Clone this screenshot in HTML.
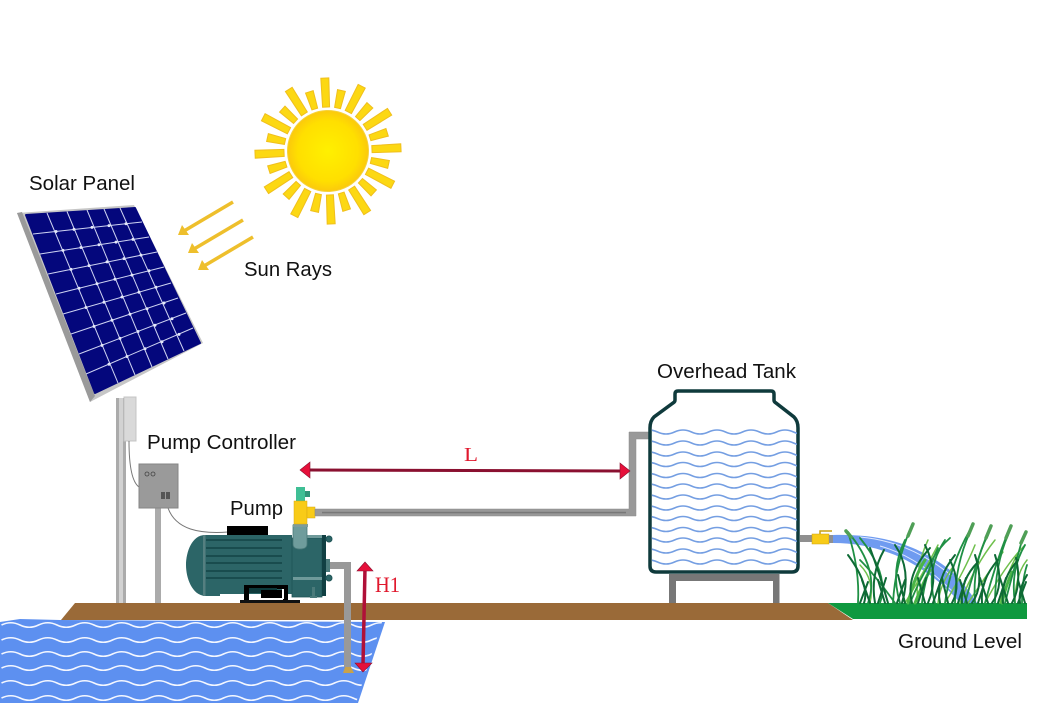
<!DOCTYPE html>
<html><head><meta charset="utf-8"><style>
html,body{margin:0;padding:0;background:#fff}
svg{display:block}
text{font-family:"Liberation Sans",sans-serif;fill:#111}
.r{font-family:"Liberation Serif",serif;fill:#e0182d}
</style></head><body>
<svg width="1047" height="706" viewBox="0 0 1047 706" xmlns="http://www.w3.org/2000/svg">
<defs>
<radialGradient id="sg"><stop offset="0" stop-color="#fff000"/><stop offset="0.75" stop-color="#ffdf00"/><stop offset="1" stop-color="#fbc90c"/></radialGradient>
<path id="wt" d="M640.500 0q8.500 -4 17 0t17 0t17 0t17 0t17 0t17 0t17 0t17 0t17 0t17 0" fill="none" stroke="#749ee2" stroke-width="1.600"/>
<path id="ww" d="M1.500 0q9.250 -4.500 18.500 0t18.500 0t18.500 0t18.500 0t18.500 0t18.500 0t18.500 0t18.500 0t18.500 0t18.500 0t18.500 0t18.500 0t18.500 0t18.500 0t18.500 0t18.500 0t18.500 0t18.500 0t18.500 0t18.500 0t18.500 0" fill="none" stroke="#f4f7ff" stroke-width="1.600"/>
<clipPath id="tc"><rect x="652" y="420" width="145" height="150"/></clipPath>
<clipPath id="wc"><polygon points="0,620 382,622 356,703 0,703"/></clipPath>
<path id="rl" d="M-4 -73L4 -73L3.500 -44L-3.500 -44Z" fill="#fcd813" stroke="#f0bf1c" stroke-width="1"/>
<path id="rs" d="M-4 -62L4 -62L3 -44L-3 -44Z" fill="#fcd813" stroke="#f0bf1c" stroke-width="1"/>
</defs>

<!-- sun -->
<g transform="translate(328,151) rotate(-2.500)">
<use href="#rl"/><use href="#rs" transform="rotate(15)"/><use href="#rl" transform="rotate(30)"/><use href="#rs" transform="rotate(45)"/><use href="#rl" transform="rotate(60)"/><use href="#rs" transform="rotate(75)"/>
<use href="#rl" transform="rotate(90)"/><use href="#rs" transform="rotate(105)"/><use href="#rl" transform="rotate(120)"/><use href="#rs" transform="rotate(135)"/><use href="#rl" transform="rotate(150)"/><use href="#rs" transform="rotate(165)"/>
<use href="#rl" transform="rotate(180)"/><use href="#rs" transform="rotate(195)"/><use href="#rl" transform="rotate(210)"/><use href="#rs" transform="rotate(225)"/><use href="#rl" transform="rotate(240)"/><use href="#rs" transform="rotate(255)"/>
<use href="#rl" transform="rotate(270)"/><use href="#rs" transform="rotate(285)"/><use href="#rl" transform="rotate(300)"/><use href="#rs" transform="rotate(315)"/><use href="#rl" transform="rotate(330)"/><use href="#rs" transform="rotate(345)"/>
<circle r="40.500" fill="url(#sg)" stroke="#f6d23c" stroke-width="1"/>
</g>

<!-- sun ray arrows -->
<g stroke="#eebf2c" stroke-width="3.500" fill="#eebf2c">
<line x1="233" y1="202" x2="184" y2="231"/><polygon points="178,235 182,225 189,235" stroke="none"/>
<line x1="243" y1="220" x2="194" y2="249"/><polygon points="188,253 192,243 199,253" stroke="none"/>
<line x1="253" y1="237" x2="204" y2="266"/><polygon points="198,270 202,260 209,270" stroke="none"/>
</g>

<!-- poles -->
<rect x="116" y="398" width="10" height="205" fill="#ababab"/><rect x="119" y="398" width="4" height="205" fill="#d2d2d2"/>
<rect x="155" y="508" width="6" height="95" fill="#ababab"/>
<rect x="124" y="397" width="12" height="44" fill="#d9d9d9" stroke="#c4c4c4"/>
<path d="M129 441C129 465 132 482 139 487" fill="none" stroke="#777" stroke-width="1"/>
<path d="M168 508C176 530 200 534 228 532" fill="none" stroke="#777" stroke-width="1"/>

<!-- panel -->
<polygon points="17,213 134,205 203,343 90,402" fill="#c6c6c6"/>
<polygon points="17,213 22,212 95,396 90,402" fill="#9a9a9a"/>
<polygon points="26,215 135,208 200,343 95,393" fill="#04077c" stroke="#04077c" stroke-width="2" stroke-linejoin="round"/>
<g stroke="#cfd4f2" stroke-width="1">
<line x1="47" y1="213" x2="118" y2="383"/><line x1="67" y1="211.500" x2="135" y2="375"/><line x1="87" y1="210" x2="152" y2="367"/><line x1="104" y1="209" x2="168" y2="359"/><line x1="120" y1="208" x2="184" y2="351"/>
<line x1="33" y1="234" x2="142" y2="222"/><line x1="40" y1="254" x2="149" y2="237"/><line x1="48" y1="274" x2="157" y2="252"/><line x1="56" y1="294" x2="164" y2="267"/><line x1="63" y1="314" x2="171" y2="283"/><line x1="71" y1="334" x2="178" y2="298"/><line x1="79" y1="354" x2="186" y2="313"/><line x1="86" y1="374" x2="193" y2="328"/>
</g>
<g fill="#e4e8fa">
<circle cx="56" cy="231.500" r="1.500"/><circle cx="74" cy="229.400" r="1.500"/><circle cx="92" cy="227.400" r="1.500"/><circle cx="109" cy="225.600" r="1.500"/><circle cx="126" cy="223.700" r="1.500"/>
<circle cx="63" cy="250.400" r="1.500"/><circle cx="81" cy="247.500" r="1.500"/><circle cx="99" cy="244.700" r="1.500"/><circle cx="116" cy="242.100" r="1.500"/><circle cx="133" cy="239.400" r="1.500"/>
<circle cx="71" cy="269.400" r="1.500"/><circle cx="89" cy="265.600" r="1.500"/><circle cx="107" cy="261.900" r="1.500"/><circle cx="124" cy="258.600" r="1.500"/><circle cx="141" cy="255.100" r="1.500"/>
<circle cx="79" cy="288.300" r="1.500"/><circle cx="97" cy="283.700" r="1.500"/><circle cx="115" cy="279.200" r="1.500"/><circle cx="132" cy="275.100" r="1.500"/><circle cx="149" cy="270.800" r="1.500"/>
<circle cx="86" cy="307.500" r="1.500"/><circle cx="104" cy="302.200" r="1.500"/><circle cx="122" cy="297" r="1.500"/><circle cx="139" cy="292.300" r="1.500"/><circle cx="156" cy="287.300" r="1.500"/>
<circle cx="94" cy="326.400" r="1.500"/><circle cx="112" cy="320.300" r="1.500"/><circle cx="130" cy="314.200" r="1.500"/><circle cx="147" cy="308.800" r="1.500"/><circle cx="164" cy="303" r="1.500"/>
<circle cx="102" cy="345.400" r="1.500"/><circle cx="120" cy="338.400" r="1.500"/><circle cx="138" cy="331.500" r="1.500"/><circle cx="155" cy="325.300" r="1.500"/><circle cx="172" cy="318.700" r="1.500"/>
<circle cx="109" cy="364.300" r="1.500"/><circle cx="127" cy="356.500" r="1.500"/><circle cx="145" cy="348.700" r="1.500"/><circle cx="162" cy="341.800" r="1.500"/><circle cx="179" cy="334.400" r="1.500"/>
</g>

<!-- controller -->
<rect x="139" y="464" width="39" height="44" fill="#9a9a9a" stroke="#858585"/>
<circle cx="147" cy="474" r="2" fill="none" stroke="#444" stroke-width=".8"/><circle cx="153" cy="474" r="2" fill="none" stroke="#444" stroke-width=".8"/>
<rect x="161" y="492" width="4" height="7" fill="#555"/><rect x="166" y="492" width="4" height="7" fill="#555"/>

<!-- ground -->
<polygon points="75,603 828,603 853,620 61,620" fill="#9a6a38"/>
<polygon points="828,603 1027,603 1027,619 853,619" fill="#0f993f"/>

<!-- source water -->
<polygon points="0,622 20,619 60,620 385,622 358,703 0,703" fill="#5d90f0"/>
<g clip-path="url(#wc)">
<use href="#ww" y="625"/><use href="#ww" y="640"/><use href="#ww" y="654"/><use href="#ww" y="668"/><use href="#ww" y="683"/><use href="#ww" y="698"/>
</g>

<!-- pump motor -->
<rect x="227" y="526" width="41" height="10" fill="#000"/>
<path d="M205 535C192 535 186 552 186 565C186 578 192 595 205 596L220 596L220 594L292 594L292 535Z" fill="#2c6567"/>
<rect x="203" y="535" width="2.500" height="61" fill="#557f80"/>
<g stroke="#0e3d40" stroke-width="1.300">
<line x1="206" y1="540" x2="282" y2="540"/><line x1="206" y1="548" x2="282" y2="548"/><line x1="206" y1="556" x2="282" y2="556"/><line x1="206" y1="563" x2="282" y2="563"/><line x1="206" y1="571" x2="282" y2="571"/><line x1="206" y1="578" x2="282" y2="578"/>
</g>
<path d="M244 585H288V600H283V589H249V600H244Z" fill="#000"/>
<rect x="249" y="588" width="28" height="5" fill="#0d3a3c"/>
<rect x="261" y="590" width="21" height="8" fill="#000"/><rect x="282" y="589" width="2" height="10" fill="#fff"/>
<rect x="240" y="600" width="60" height="3" fill="#111"/>
<!-- pump head -->
<rect x="292" y="538" width="30" height="59" fill="#2c6567" stroke="#1f5557" stroke-width=".8"/>
<rect x="293" y="577" width="30" height="3" fill="#6f9a9a"/>
<rect x="307" y="535" width="17" height="3" fill="#6f9a9a"/>
<rect x="322" y="535" width="4" height="61" fill="#114043"/>
<circle cx="329" cy="539" r="3" fill="#2c6567" stroke="#1f5557"/><circle cx="329" cy="578" r="3" fill="#2c6567" stroke="#1f5557"/>
<rect x="326" y="559" width="4" height="13" fill="#4a7a7a"/>
<rect x="312" y="587" width="3" height="10" fill="#4a7a7a"/><rect x="310" y="596" width="7" height="2" fill="#4a7a7a"/>

<!-- valve -->
<path d="M293 525H307V544Q307 549 300 549Q293 549 293 544Z" fill="#6f9c9c" stroke="#4a7a7a" stroke-width=".8"/>
<rect x="293" y="524" width="15" height="3" fill="#7d9c9c"/>
<rect x="296" y="487" width="9" height="14" fill="#3fbf95"/><rect x="305" y="491" width="5" height="6" fill="#2f9478"/>
<rect x="294" y="501" width="13" height="23" fill="#f8cb18" stroke="#d8a810" stroke-width=".5"/>
<rect x="307" y="507" width="8" height="11" fill="#f8cb18" stroke="#d8a810" stroke-width=".5"/>

<!-- pipes -->
<path d="M315 509H629V432H652V439H636V516H315Z" fill="#999" stroke="#8a8a8a" stroke-width=".5"/>
<rect x="322" y="511.800" width="304" height="1.500" fill="#787878"/>
<path d="M330 562H351V667H344V569H330Z" fill="#999"/>
<path d="M345 667H351L354 673H343Z" fill="#c9a24a"/>

<!-- arrows -->
<line x1="308" y1="470" x2="622" y2="471" stroke="#8a1030" stroke-width="3"/>
<polygon points="300,470 310,462 310,478" fill="#e6103a" stroke="#8a1030" stroke-width=".6"/>
<polygon points="630,471 620,463 620,479" fill="#e6103a" stroke="#8a1030" stroke-width=".6"/>
<line x1="365" y1="568" x2="363" y2="665" stroke="#b01038" stroke-width="3.500"/>
<polygon points="365,562 373,571 357,571" fill="#e6103a" stroke="#8a1030" stroke-width=".6"/>
<polygon points="363,672 355,663 372,663" fill="#e6103a" stroke="#8a1030" stroke-width=".6"/>

<!-- tank -->
<rect x="669" y="574" width="110" height="7" fill="#777"/><rect x="669" y="574" width="7" height="29" fill="#777"/><rect x="773" y="574" width="6.500" height="29" fill="#777"/>
<path d="M678 391H771Q774 391 774 394V400Q774 402 776 403L794 417Q798 421 798 428V566Q798 572 792 572H656Q650 572 650 566V428Q650 421 654 417L673 403Q675 402 675 400V394Q675 391 678 391Z" fill="#fff" stroke="#0f3a3c" stroke-width="3.500"/>
<g clip-path="url(#tc)">
<use href="#wt" y="432"/><use href="#wt" y="443"/><use href="#wt" y="454"/><use href="#wt" y="464.500"/><use href="#wt" y="475.500"/><use href="#wt" y="486"/><use href="#wt" y="497"/><use href="#wt" y="508"/><use href="#wt" y="518.500"/><use href="#wt" y="529.500"/><use href="#wt" y="540"/><use href="#wt" y="551"/><use href="#wt" y="562"/>
</g>

<!-- outlet and stream -->
<path d="M833 535C880 534 915 543 950 570C962 581 970 592 977 603L960 603C948 588 925 568 895 555C875 547 855 543 833 543Z" fill="#6f9bf0"/>
<path d="M860 537C895 540 925 554 952 576" fill="none" stroke="#dfe9ff" stroke-width="1"/>
<path d="M880 546C905 553 930 569 952 591" fill="none" stroke="#dfe9ff" stroke-width="1"/>
<rect x="800" y="535" width="13" height="7" fill="#8f8f8f"/>
<rect x="812" y="534" width="17" height="10" fill="#f8cb18" stroke="#c9a010" stroke-width=".5"/>
<rect x="829" y="535" width="4" height="8" fill="#8f8f8f"/>
<path d="M820 534V531H832" fill="none" stroke="#c9a010" stroke-width="1.500"/>

<!-- grass -->
<g fill="none" stroke-linecap="round">
<g stroke="#6fc04c" stroke-width="1.500">
<path d="M905 603Q925 570 938 545"/><path d="M918 603Q914 570 928 540"/><path d="M960 603Q975 565 995 540"/><path d="M985 603Q1005 565 1025 545"/><path d="M1000 603Q1005 575 1020 550"/><path d="M945 603Q965 570 975 545"/><path d="M870 603Q875 580 860 565"/><path d="M1015 603Q1015 575 1027 560"/><path d="M968 603Q990 570 1003 552"/><path d="M938 603Q940 585 952 568"/>
</g>
<g stroke="#49b548" stroke-width="3">
<path d="M908 603Q915 575 925 560"/><path d="M915 603Q922 585 930 570"/><path d="M1002 603Q1006 585 1012 572"/>
</g>
<g stroke="#1f9044" stroke-width="1.800">
<path d="M858 603Q860 570 848 532"/><path d="M868 603Q880 570 848 532"/><path d="M880 603Q890 575 860 538"/><path d="M893 603Q895 565 910 530"/><path d="M900 603Q890 570 905 540"/><path d="M895 603Q875 575 860 560"/><path d="M910 603Q930 555 950 538"/><path d="M922 603Q925 575 938 548"/><path d="M935 603Q925 570 945 540"/><path d="M945 603Q950 565 970 530"/><path d="M955 603Q955 565 970 532"/><path d="M965 603Q975 565 988 532"/><path d="M975 603Q972 565 988 535"/><path d="M985 603Q995 565 1008 532"/><path d="M995 603Q995 565 1008 535"/><path d="M1005 603Q1015 565 1023 537"/><path d="M1015 603Q1010 570 1025 545"/><path d="M1022 603Q1022 580 1027 565"/>
</g>
<g stroke="#0e6a35" stroke-width="2">
<path d="M864 603Q870 585 848 555"/><path d="M875 603Q870 575 884 550"/><path d="M888 603Q880 575 870 548"/><path d="M902 603Q912 570 895 545"/><path d="M912 603Q905 575 930 548"/><path d="M928 603Q940 575 925 545"/><path d="M940 603Q935 580 955 555"/><path d="M952 603Q962 585 950 560"/><path d="M962 603Q960 580 978 562"/><path d="M972 603Q985 585 975 555"/><path d="M982 603Q980 580 998 560"/><path d="M992 603Q1005 585 995 555"/><path d="M1003 603Q1000 580 1018 560"/><path d="M1012 603Q1022 585 1016 558"/><path d="M1020 603Q1018 590 1027 575"/>
<path d="M860 603L868 582"/><path d="M870 603L862 580"/><path d="M878 603L886 578"/><path d="M885 603L878 580"/><path d="M897 603L905 580"/><path d="M905 603L898 575"/><path d="M918 603L926 578"/><path d="M925 603L918 578"/><path d="M933 603L941 580"/><path d="M948 603L942 578"/><path d="M958 603L966 578"/><path d="M967 603L960 580"/><path d="M978 603L986 578"/><path d="M988 603L980 578"/><path d="M998 603L1006 578"/><path d="M1008 603L1000 578"/><path d="M1018 603L1026 582"/><path d="M1025 603L1018 580"/>
</g>
<g stroke="#4f9f56" stroke-width="3.500">
<path d="M846 531L851 537"/><path d="M908 536L913 524"/><path d="M968 536L973 524"/><path d="M986 538L991 526"/><path d="M1006 538L1011 526"/><path d="M1021 543L1026 532"/>
</g>
</g>

<!-- labels -->
<text x="29" y="190" font-size="20" textLength="106" lengthAdjust="spacingAndGlyphs">Solar Panel</text>
<text x="244" y="276" font-size="20" textLength="88" lengthAdjust="spacingAndGlyphs">Sun Rays</text>
<text x="657" y="378" font-size="20" textLength="139" lengthAdjust="spacingAndGlyphs">Overhead Tank</text>
<text x="147" y="449" font-size="20" textLength="149" lengthAdjust="spacingAndGlyphs">Pump Controller</text>
<text x="230" y="515" font-size="20" textLength="53" lengthAdjust="spacingAndGlyphs">Pump</text>
<text x="898" y="648" font-size="20" textLength="124" lengthAdjust="spacingAndGlyphs">Ground Level</text>
<text class="r" x="464" y="461" font-size="20" textLength="14" lengthAdjust="spacingAndGlyphs">L</text>
<text class="r" x="375" y="592" font-size="22" textLength="25" lengthAdjust="spacingAndGlyphs">H1</text>
</svg>
</body></html>
